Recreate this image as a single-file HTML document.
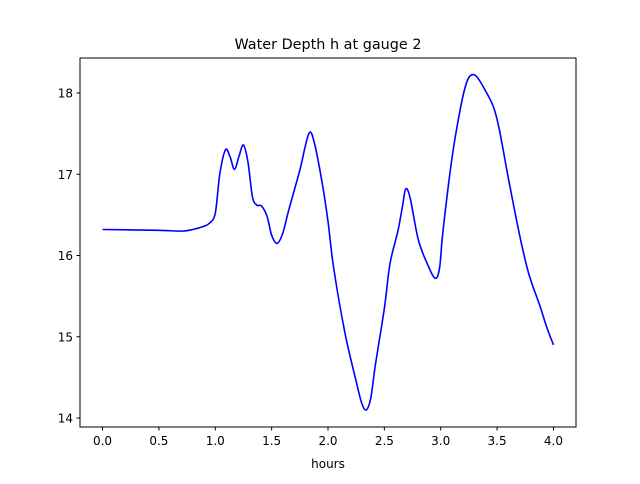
<!DOCTYPE html>
<html><head><meta charset="utf-8"><style>
body{margin:0;background:#fff;font-family:"DejaVu Sans","Liberation Sans",sans-serif}
</style></head><body>
<svg id="chart" width="640" height="480" xmlns="http://www.w3.org/2000/svg" font-family="DejaVu Sans, Liberation Sans, sans-serif">
<rect width="640" height="480" fill="#fff"/>
<text x="328" y="49" font-size="14.4" text-anchor="middle">Water Depth h at gauge 2</text>
<text x="328" y="468" font-size="12" text-anchor="middle">hours</text>
<g id="axes"></g>
<path id="line" fill="none" stroke="#0000ff" stroke-width="1.6"/>
<rect x="80" y="58" width="496" height="369" fill="none" stroke="#000" stroke-width="1"/>
</svg>
<script>
const xs=[0,0.5,0.7,0.8,0.9,0.95,1.0,1.04,1.09,1.13,1.17,1.21,1.25,1.29,1.33,1.37,1.41,1.46,1.5,1.55,1.6,1.65,1.75,1.83,1.88,1.95,2.0,2.05,2.15,2.25,2.3,2.34,2.38,2.42,2.5,2.55,2.62,2.66,2.69,2.73,2.8,2.88,2.95,2.99,3.02,3.1,3.18,3.23,3.27,3.32,3.4,3.47,3.52,3.6,3.7,3.78,3.88,3.94,4.0];
const ys=[16.32,16.31,16.30,16.32,16.36,16.40,16.52,17.0,17.30,17.22,17.06,17.22,17.36,17.15,16.72,16.62,16.61,16.48,16.25,16.15,16.28,16.55,17.05,17.50,17.38,16.88,16.42,15.85,15.05,14.45,14.18,14.10,14.25,14.65,15.35,15.90,16.3,16.6,16.82,16.7,16.2,15.9,15.72,15.85,16.3,17.2,17.85,18.13,18.22,18.2,18.02,17.82,17.55,16.95,16.25,15.78,15.38,15.12,14.9];
const xTicks=[0,0.5,1.0,1.5,2.0,2.5,3.0,3.5,4.0];
const yTicks=[14,15,16,17,18];
const X=v=>80+(v+0.2)/4.4*496;
const Y=v=>93+(18-v)*81.25;
const g=document.getElementById('axes');
const NS='http://www.w3.org/2000/svg';
function mk(t,a){const e=document.createElementNS(NS,t);for(const k in a)e.setAttribute(k,a[k]);g.appendChild(e);return e;}
xTicks.forEach(v=>{
 const l=mk('line',{x1:X(v),x2:X(v),y1:427,y2:430.5,stroke:'#000'});
 
 
 const t=mk('text',{x:X(v),y:445,'font-size':12,'text-anchor':'middle'});t.textContent=v.toFixed(1);
 
 
});
yTicks.forEach(v=>{
 const l=mk('line',{x1:76.5,x2:80,y1:Y(v),y2:Y(v),stroke:'#000'});
 
 
 const t=mk('text',{x:73,y:Y(v)+4.5,'font-size':12,'text-anchor':'end'});t.textContent=v;
 
 
});
const P=xs.map((x,i)=>[X(x),Y(ys[i])]);
let d='M'+P[0][0]+','+P[0][1];
for(let i=0;i<P.length-1;i++){
 const p0=P[Math.max(0,i-1)],p1=P[i],p2=P[i+1],p3=P[Math.min(P.length-1,i+2)];
 const c1=[p1[0]+(p2[0]-p0[0])/6,p1[1]+(p2[1]-p0[1])/6];
 const c2=[p2[0]-(p3[0]-p1[0])/6,p2[1]-(p3[1]-p1[1])/6];
 d+=` C${c1[0]},${c1[1]} ${c2[0]},${c2[1]} ${p2[0]},${p2[1]}`;
}
document.getElementById('line').setAttribute('d',d);
</script>
</body></html>
